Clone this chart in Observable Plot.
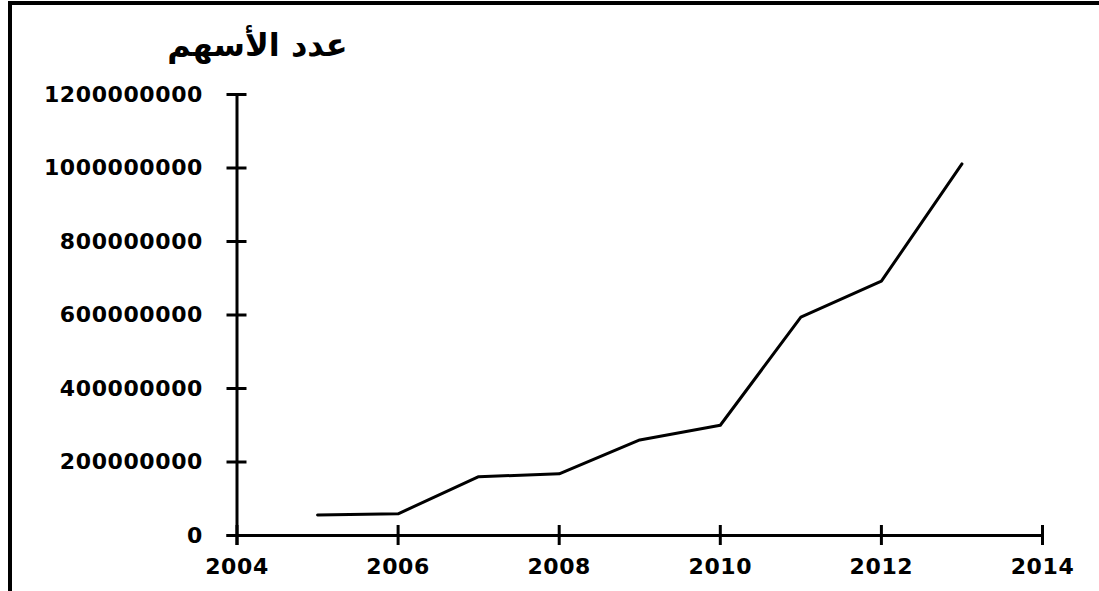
<!DOCTYPE html>
<html>
<head>
<meta charset="utf-8">
<script src="https://cdn.jsdelivr.net/npm/d3@7"></script>
<script src="https://cdn.jsdelivr.net/npm/@observablehq/plot@0.6"></script>
<style>
  html, body { margin: 0; padding: 0; background: #fff; }
  #wrap { position: relative; width: 1099px; height: 591px; overflow: hidden; }
  #frame { position: absolute; left: 8px; top: 1px; right: -10px; bottom: -10px;
           border-left: 4px solid #000; border-top: 4px solid #000; pointer-events: none; }
  svg text { font-family: "DejaVu Sans", Verdana, sans-serif; }
  svg g[aria-label="y-axis tick label"] text,
  svg g[aria-label="x-axis tick label"] text { letter-spacing: 0.6px; }
</style>
</head>
<body>
<div id="wrap"><div id="frame"></div></div>
<script>
const title = "عدد الأسهم";
const years = [2005, 2006, 2007, 2008, 2009, 2010, 2011, 2012, 2013];
const shares = [56000000, 59000000, 160000000, 168000000, 260000000, 300000000, 594000000, 692000000, 1011000000];
const xTicks = [2004, 2006, 2008, 2010, 2012, 2014];
const yTicks = [0, 200000000, 400000000, 600000000, 800000000, 1000000000, 1200000000];

const data = years.map((year, i) => ({year, value: shares[i]}));

const chart = Plot.plot({
  width: 1099,
  height: 591,
  marginLeft: 236.5,
  marginRight: 57,
  marginTop: 94,
  marginBottom: 56,
  style: {background: "transparent", color: "#000", fontSize: "22px", fontWeight: "bold", fontFamily: "DejaVu Sans"},
  x: {domain: [2004, 2014], ticks: xTicks, tickFormat: "d"},
  y: {domain: [0, 1200000000], ticks: yTicks, tickFormat: "d"},
  marks: [
    Plot.axisY(yTicks, {tickSize: 20, dx: 10, tickPadding: 24, strokeWidth: 3, tickFormat: d3.format("d"), label: null, fontSize: 22, fontWeight: "bold"}),
    Plot.axisX(xTicks, {tickSize: 20, dy: -10, tickPadding: 13, strokeWidth: 3, tickFormat: d3.format("d"), label: null, fontSize: 22, fontWeight: "bold"}),
    Plot.ruleY([0], {strokeWidth: 3, insetLeft: -10}),
    Plot.ruleX([2004], {strokeWidth: 3, insetBottom: -10}),
    Plot.line(data, {x: "year", y: "value", stroke: "#000", strokeWidth: 3}),
    Plot.text([title], {frameAnchor: "top-left", dx: 20.5, dy: -49, text: d => d, fontSize: 32, fontWeight: "bold", textAnchor: "middle", lineAnchor: "middle"})
  ]
});
document.getElementById("wrap").prepend(chart);
</script>
</body>
</html>
